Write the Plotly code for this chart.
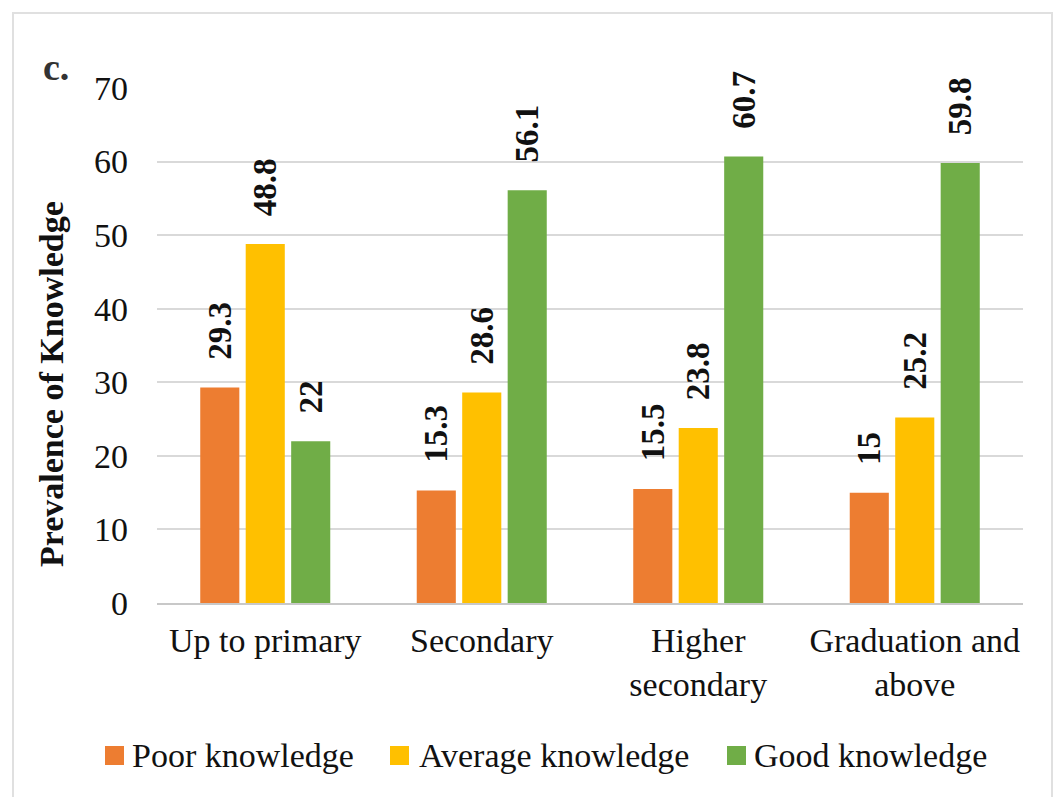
import plotly.graph_objects as go

categories = ["Up to primary", "Secondary", "Higher<br>secondary", "Graduation and<br>above"]
poor = [29.3, 15.3, 15.5, 15.0]
average = [48.8, 28.6, 23.8, 25.2]
good = [22.0, 56.1, 60.7, 59.8]
series_names = ["Poor knowledge", "Average knowledge", "Good knowledge"]
colors = ["#ED7D31", "#FFC000", "#70AD47"]
y_ticks = [0, 10, 20, 30, 40, 50, 60, 70]
y_title = "Prevalence of Knowledge"

serif = "Liberation Serif"
pad = "\u00a0\u00a0\u00a0"
FS = 34

fig = go.Figure()
for name, vals, col in zip(series_names, [poor, average, good], colors):
    fig.add_trace(go.Bar(
        x=categories, y=vals, name=name, marker_color=col,
        marker_line_width=0, showlegend=False,
        text=[pad + f"{v:g}" for v in vals], textposition="outside",
        textangle=-90, cliponaxis=False, constraintext="none",
        textfont=dict(family=serif, size=33, color="#111111", weight="bold"),
    ))

fig.update_layout(
    width=1063, height=797,
    paper_bgcolor="white", plot_bgcolor="white",
    margin=dict(l=149, r=48, t=80, b=202),
    barmode="group", bargap=0.37, bargroupgap=0.14,
    font=dict(family=serif, size=FS, color="#111111"),
    showlegend=False,
)
fig.update_yaxes(range=[0, 70], tickvals=y_ticks, showgrid=True, gridcolor="#d9d9d9",
                 gridwidth=1.5, zeroline=False, showline=False, ticks="",
                 ticklabelstandoff=28,
                 tickfont=dict(family=serif, size=FS, color="#111111"))
fig.update_xaxes(showline=True, linecolor="#c8c8c8", linewidth=1.5, ticks="",
                 ticklabelstandoff=6,
                 tickfont=dict(family=serif, size=FS, color="#111111"))


# screen-pixel positions converted to paper coords
def px(X):
    return (X - 157) / 866


def py(Y):
    return (603 - Y) / 515


fig.add_annotation(text=f"<b>{y_title}</b>", xref="paper", yref="paper",
                   x=px(51), y=py(384), textangle=-90, showarrow=False,
                   xanchor="center", yanchor="middle",
                   font=dict(family=serif, size=FS, color="#111111"))

legend_key_x = [105, 390, 727]
legend_text_x = [130, 417, 752]
for name, col, kx, tx in zip(series_names, colors, legend_key_x, legend_text_x):
    fig.add_shape(type="rect", xref="paper", yref="paper",
                  x0=px(kx), x1=px(kx + 19), y0=py(765), y1=py(746),
                  fillcolor=col, line=dict(width=0))
    fig.add_annotation(text=name, xref="paper", yref="paper", x=px(tx), y=py(755),
                       xanchor="left", yanchor="middle", showarrow=False,
                       font=dict(family=serif, size=FS, color="#111111"))

fig.add_annotation(text="<b>c.</b>", xref="paper", yref="paper", x=px(56), y=py(67),
                   showarrow=False, font=dict(family=serif, size=38, color="#333333"),
                   xanchor="center", yanchor="middle")
fig.add_shape(type="rect", xref="paper", yref="paper",
              x0=px(13), x1=px(1052), y0=py(810), y1=py(13),
              line=dict(color="#e0e0e0", width=2), layer="below")

fig.write_html("out.html")
